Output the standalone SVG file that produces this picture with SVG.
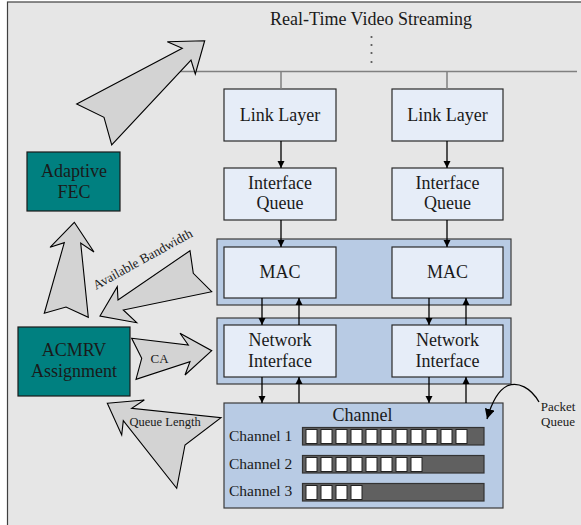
<svg xmlns="http://www.w3.org/2000/svg" width="581" height="525" viewBox="0 0 581 525" font-family="'Liberation Serif', 'DejaVu Serif', serif">
  <defs>
    <marker id="ah" viewBox="0 0 10 10" refX="10" refY="5" markerWidth="7" markerHeight="8" markerUnits="userSpaceOnUse" orient="auto">
      <path d="M0,0 L10,5 L0,10 Z" fill="#000"/>
    </marker>
    <marker id="ahc" viewBox="0 0 10 10" refX="10" refY="5" markerWidth="10" markerHeight="10" markerUnits="userSpaceOnUse" orient="auto">
      <path d="M0,0 L10,5 L0,10 Z" fill="#000"/>
    </marker>
  </defs>
  <style>
    text { font-family: "Liberation Serif", "DejaVu Serif", serif; fill: #1a1a1a; }
    .lbl { font-size: 18px; text-anchor: middle; }
    .box { fill: #e6edf8; stroke: #2a2a2a; stroke-width: 1.2; }
    .band { fill: #b8cbe4; stroke: #3a3a3a; stroke-width: 1.2; }
    .teal { fill: #008080; stroke: #1a1a1a; stroke-width: 1.2; }
    .big { fill: #d3d3d3; stroke: #000; stroke-width: 1.1; stroke-linejoin: miter; }
    .link { stroke: #000; stroke-width: 1.3; fill: none; }
    .bus { stroke: #808080; stroke-width: 1.5; fill: none; }
    .bar { fill: #606060; stroke: #333; stroke-width: 1.2; }
    .pkt { fill: #ffffff; stroke: #222; stroke-width: 1; }
  </style>

  <!-- frame -->
  <rect x="0" y="0" width="581" height="525" fill="#ffffff"/>
  <rect x="7.5" y="2" width="600" height="600" fill="#e6e6e6" stroke="#404040" stroke-width="1.2"/>

  <!-- application layer -->
  <g id="title">
    <text class="lbl" x="371" y="25">Real-Time Video Streaming</text>
    <g fill="#555">
      <circle cx="371.5" cy="37" r="1.1"/>
      <circle cx="371.5" cy="45" r="1.1"/>
      <circle cx="371.5" cy="53" r="1.1"/>
      <circle cx="371.5" cy="62" r="1.1"/>
    </g>
  </g>

  <!-- bands behind MAC and network interface boxes -->
  <rect id="mac-band" class="band" x="217" y="239" width="294" height="66"/>
  <rect id="ni-band" class="band" x="217" y="318" width="294" height="66"/>

  <g id="link-layer-1">
    <rect class="box" x="224" y="89" width="112" height="52"/>
    <text class="lbl" x="280" y="121">Link Layer</text>
  </g>
  <g id="link-layer-2">
    <rect class="box" x="392" y="89" width="111" height="52"/>
    <text class="lbl" x="447.5" y="121">Link Layer</text>
  </g>
  <g id="interface-queue-1">
    <rect class="box" x="224" y="168" width="112" height="52"/>
    <text class="lbl" x="280" y="189">Interface</text>
    <text class="lbl" x="280" y="209">Queue</text>
  </g>
  <g id="interface-queue-2">
    <rect class="box" x="392" y="168" width="111" height="52"/>
    <text class="lbl" x="447.5" y="189">Interface</text>
    <text class="lbl" x="447.5" y="209">Queue</text>
  </g>
  <g id="mac-1">
    <rect class="box" x="224" y="247" width="112" height="51"/>
    <text class="lbl" x="280" y="278">MAC</text>
  </g>
  <g id="mac-2">
    <rect class="box" x="392" y="247" width="111" height="51"/>
    <text class="lbl" x="447.5" y="278">MAC</text>
  </g>
  <g id="network-interface-1">
    <rect class="box" x="224" y="325" width="112" height="52"/>
    <text class="lbl" x="280" y="346">Network</text>
    <text class="lbl" x="280" y="367">Interface</text>
  </g>
  <g id="network-interface-2">
    <rect class="box" x="392" y="325" width="111" height="52"/>
    <text class="lbl" x="447.5" y="346">Network</text>
    <text class="lbl" x="447.5" y="367">Interface</text>
  </g>

  <g id="channel">
    <rect class="band" x="224" y="403" width="279" height="105"/>
    <text class="lbl" x="362.5" y="421">Channel</text>
    <text x="229" y="441" font-size="15.5">Channel 1</text>
    <text x="229" y="468.5" font-size="15.5">Channel 2</text>
    <text x="229" y="496" font-size="15.5">Channel 3</text>
    <rect class="bar" x="302.5" y="427.5" width="181.5" height="17.5"/>
    <rect class="bar" x="302.5" y="455.5" width="181.5" height="17.5"/>
    <rect class="bar" x="302.5" y="483.5" width="181.5" height="17.5"/>
    <g class="pkt">
      <rect x="306" y="429.5" width="11" height="14"/>
      <rect x="321" y="429.5" width="11" height="14"/>
      <rect x="336" y="429.5" width="11" height="14"/>
      <rect x="351" y="429.5" width="11" height="14"/>
      <rect x="366" y="429.5" width="11" height="14"/>
      <rect x="381" y="429.5" width="11" height="14"/>
      <rect x="396" y="429.5" width="11" height="14"/>
      <rect x="411" y="429.5" width="11" height="14"/>
      <rect x="426" y="429.5" width="11" height="14"/>
      <rect x="441" y="429.5" width="11" height="14"/>
      <rect x="456" y="429.5" width="11" height="14"/>

      <rect x="306" y="457.5" width="11" height="14"/>
      <rect x="321" y="457.5" width="11" height="14"/>
      <rect x="336" y="457.5" width="11" height="14"/>
      <rect x="351" y="457.5" width="11" height="14"/>
      <rect x="366" y="457.5" width="11" height="14"/>
      <rect x="381" y="457.5" width="11" height="14"/>
      <rect x="396" y="457.5" width="11" height="14"/>
      <rect x="411" y="457.5" width="11" height="14"/>

      <rect x="306" y="485.5" width="11" height="14"/>
      <rect x="321" y="485.5" width="11" height="14"/>
      <rect x="336" y="485.5" width="11" height="14"/>
      <rect x="351" y="485.5" width="11" height="14"/>
    </g>
  </g>

  <g id="packet-queue-label">
    <text x="558" y="411" font-size="13" text-anchor="middle">Packet</text>
    <text x="558" y="426" font-size="13" text-anchor="middle">Queue</text>
  </g>

  <g id="adaptive-fec">
    <rect class="teal" x="27" y="152" width="93" height="59"/>
    <text class="lbl" x="74" y="177">Adaptive</text>
    <text class="lbl" x="74" y="197.5">FEC</text>
  </g>
  <g id="acmrv-assignment">
    <rect class="teal" x="18" y="327" width="112" height="69"/>
    <text class="lbl" x="74" y="356">ACMRV</text>
    <text class="lbl" x="74" y="377">Assignment</text>
  </g>

  <g id="connectors">
    <!-- bus to link layers -->
    <path class="bus" d="M180,71.5 H577 M281,71.5 V89 M447,71.5 V89"/>
    <!-- vertical stack, left column -->
    <path class="link" marker-end="url(#ah)" d="M281,141 V168"/>
    <path class="link" marker-end="url(#ah)" d="M281,220 V247"/>
    <path class="link" marker-end="url(#ah)" d="M262,298 V325"/>
    <path class="link" marker-end="url(#ah)" d="M299,325 V298"/>
    <path class="link" marker-end="url(#ah)" d="M262,377 V403"/>
    <path class="link" marker-end="url(#ah)" d="M299,403 V377"/>
    <!-- vertical stack, right column -->
    <path class="link" marker-end="url(#ah)" d="M447,141 V168"/>
    <path class="link" marker-end="url(#ah)" d="M447,220 V247"/>
    <path class="link" marker-end="url(#ah)" d="M429,298 V325"/>
    <path class="link" marker-end="url(#ah)" d="M466,325 V298"/>
    <path class="link" marker-end="url(#ah)" d="M429,377 V403"/>
    <path class="link" marker-end="url(#ah)" d="M466,403 V377"/>
    <!-- packet queue pointer -->
    <path d="M539,402 C531,388 518,381 507,386 C497,391 491,405 487,419" stroke="#000" stroke-width="1.3" fill="none" marker-end="url(#ahc)"/>
  </g>

  <!-- block arrows -->
  <g id="flow-arrows">
    <path class="big" d="M76.7,104 L182.3,48.3 L167.3,41.7 L204.7,40.7 L195.3,74 L191,60 L111.7,145 L104,117.3 Z"/>
    <path class="big" d="M74.3,222.3 L94,252 L80.7,243 L88.3,317.3 L66,307 L44.3,313.3 L64.3,242.7 L50,247.3 Z"/>
    <path class="big" d="M100,316 L117.3,286.7 L118,300 L190,250.7 L193.3,273.3 L211.7,291.7 L123.3,310 L136.7,322.7 Z"/>
    <path class="big" d="M131.7,338.3 L188.3,345 L180,333.3 L211.7,350.7 L185,375 L190,361.7 L136,379.3 L141.7,358.3 Z"/>
    <path class="big" d="M107.3,403.3 L144.3,400 L131.7,408.3 L221,417.7 L185,445 L176.7,488.3 L123.3,420.7 L121.7,435 Z"/>
    <text x="96" y="290" font-size="13.2" transform="rotate(-29 96 290)">Available Bandwidth</text>
    <text x="159.5" y="363" font-size="13" text-anchor="middle">CA</text>
    <text x="129.5" y="426" font-size="12.5">Queue Length</text>
  </g>
</svg>
